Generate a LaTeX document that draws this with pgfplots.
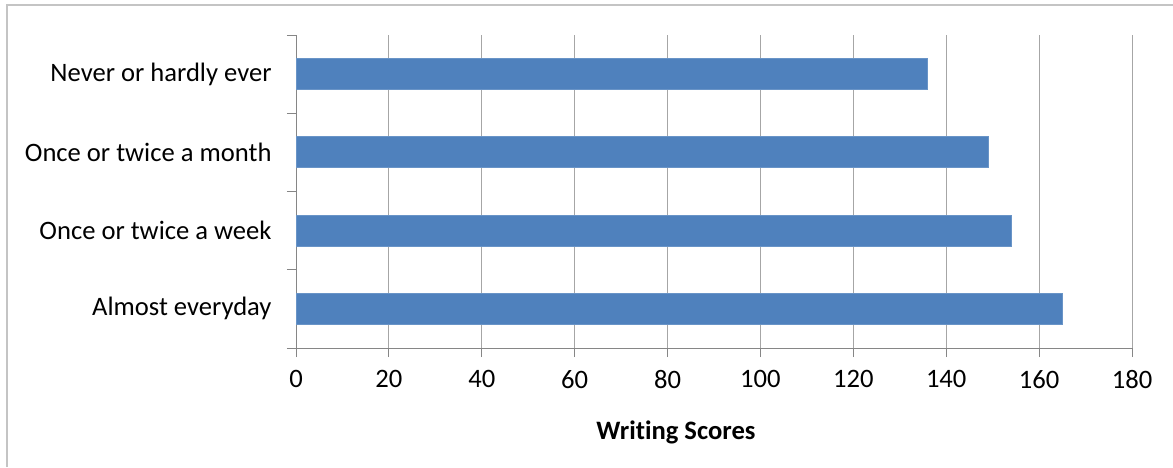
\documentclass[border=0pt]{standalone}
\usepackage{fontspec}
\setmainfont{Carlito}[Ligatures=NoCommon]
\usepackage{pgfplots}
\pgfplotsset{compat=1.18}
\definecolor{barblue}{HTML}{4F81BD}
\definecolor{axisgray}{HTML}{868686}
\definecolor{gridgray}{HTML}{A6A6A6}
\definecolor{framegray}{HTML}{C4C4C4}
\begin{document}
\begin{tikzpicture}
\useasboundingbox (0pt,0pt) rectangle (1173pt,467pt);
\draw[framegray, line width=1.5pt] (7pt,0pt) -- (7pt,462pt) -- (1173pt,462pt);
\begin{axis}[
  at={(296pt,119pt)}, anchor=south west,
  scale only axis, width=836pt, height=313pt,
  xmin=0, xmax=180, xtick={0,20,...,180},
  ymin=0.5, ymax=4.5,
  ytick={0.5,1.5,2.5,3.5,4.5},
  y tick label as interval,
  yticklabels={Almost everyday, Once or twice a week, Once or twice a month, Never or hardly ever},
  axis x line*=bottom, axis y line*=left,
  axis line style={-, axisgray, line width=1pt},
  tick align=outside,
  major tick length=9pt,
  every tick/.style={axisgray, line width=1pt},
  xmajorgrids, grid style={gridgray, line width=1pt},
  tick label style={font=\fontsize{26.6}{32}\selectfont, black},
  /pgf/number format/assume math mode=true,
  xticklabel style={yshift=-10pt},
  yticklabel style={xshift=-12pt},
  xbar, bar width=31pt,
  clip=false,
]
\addplot[fill=barblue, draw=barblue!85!white, line width=0.8pt] coordinates {
  (165,1) (154,2) (149,3) (136,4)
};
\end{axis}
\node[anchor=base, font=\fontsize{26.6}{32}\selectfont\bfseries] at (676pt,28pt) {Writing Scores};
\end{tikzpicture}
\end{document}
